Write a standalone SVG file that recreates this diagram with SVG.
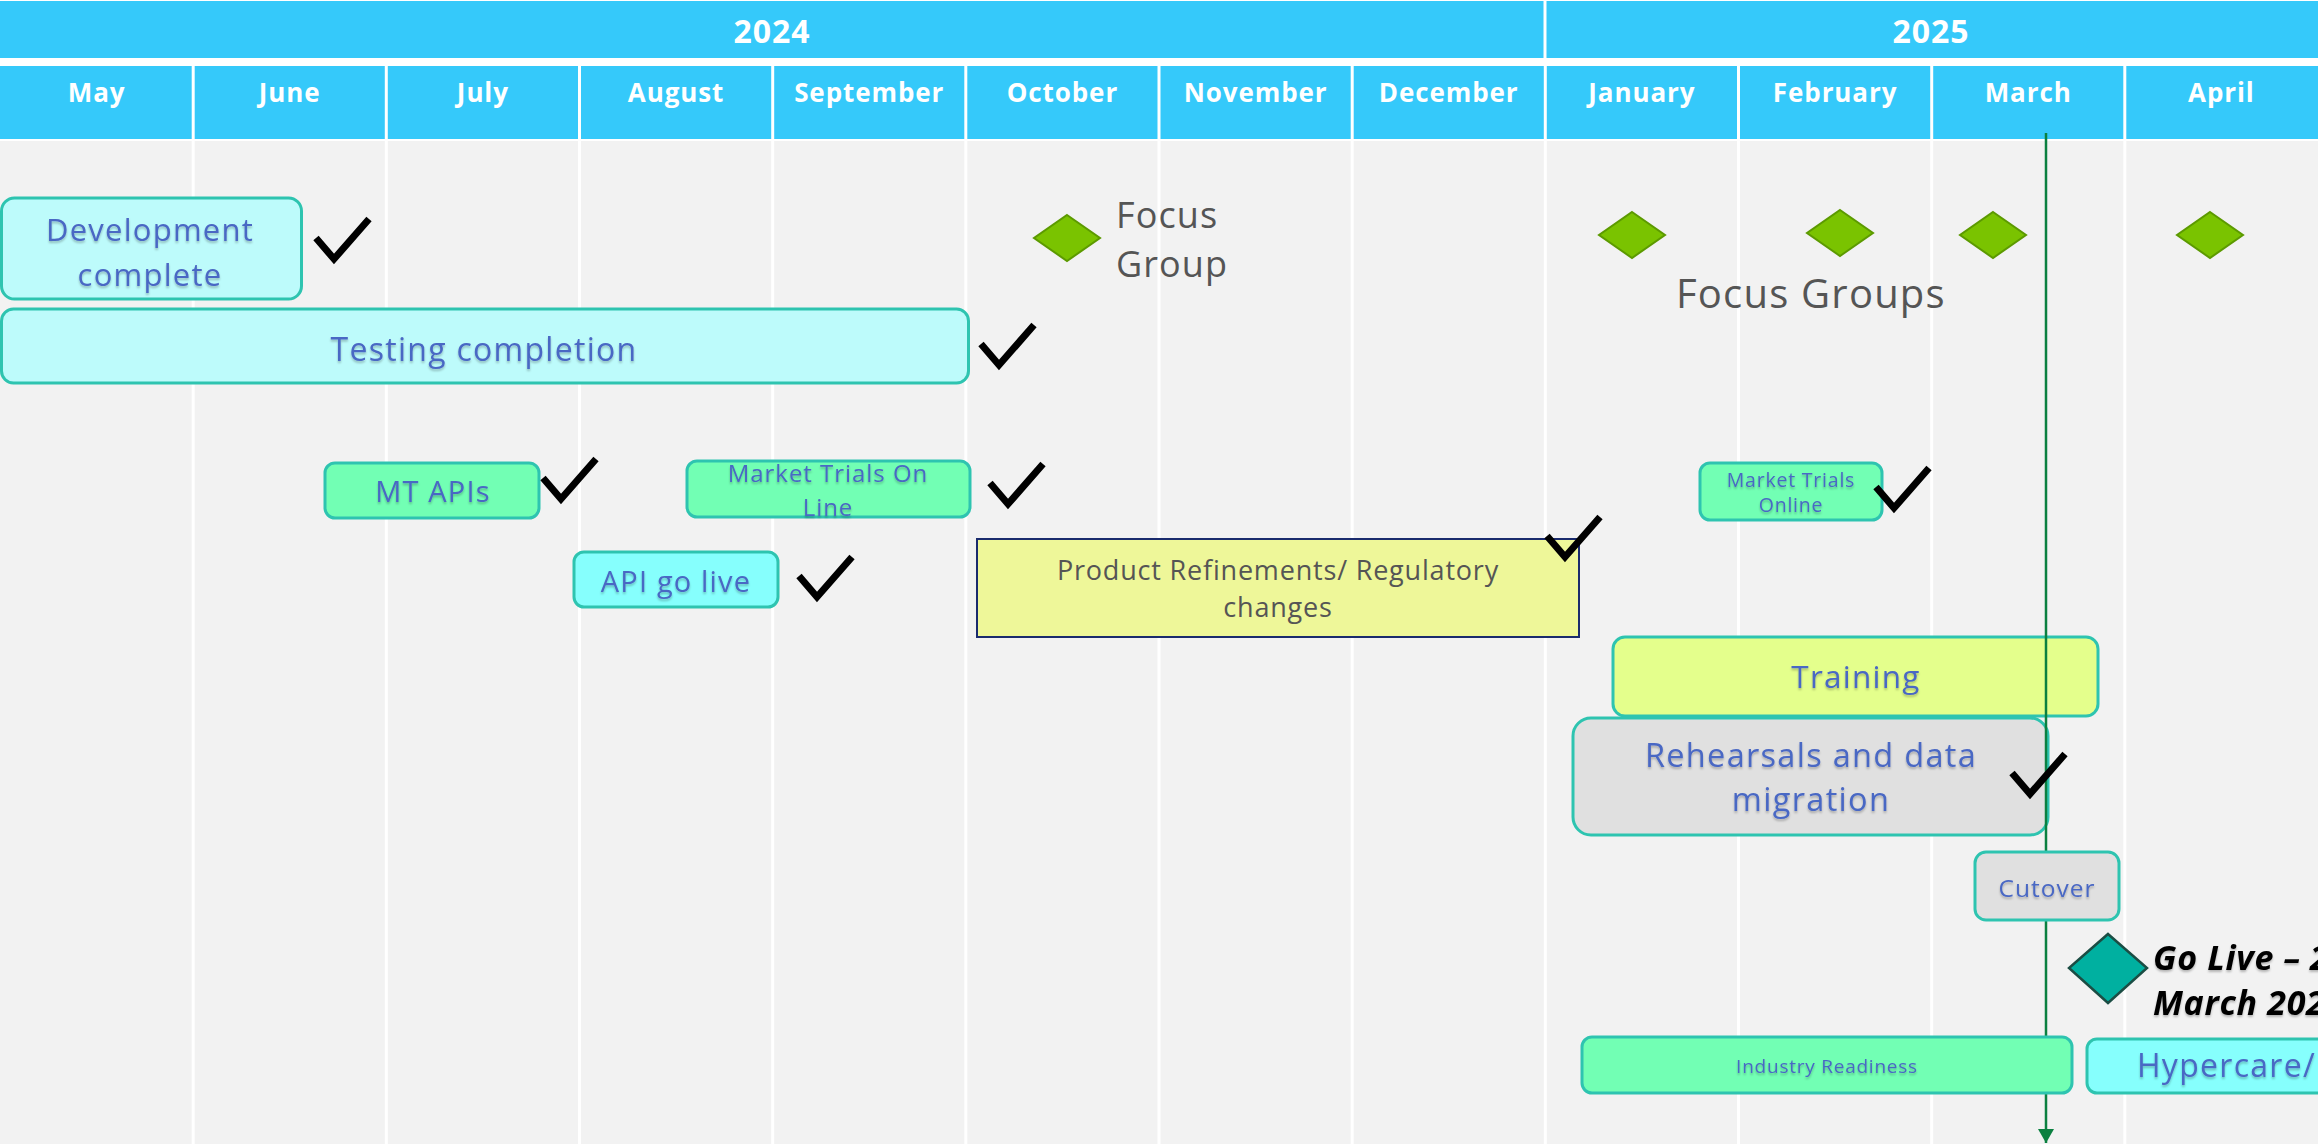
<svg xmlns="http://www.w3.org/2000/svg" width="2318" height="1144" viewBox="0 0 2318 1144">
<defs>
<style>
.hdr{fill:#35c9fa}
.yr{font-family:"Open Sans","Noto Sans",sans-serif;font-weight:700;font-size:32px;letter-spacing:0.03em;fill:#ffffff;text-anchor:middle}
.mo{font-family:"Open Sans","Noto Sans",sans-serif;font-weight:700;font-size:26px;letter-spacing:0.035em;fill:#ffffff;text-anchor:middle}
.sep{stroke:#ffffff;stroke-width:3}
.box{stroke:#2ec4b0;stroke-width:3}
.t{font-family:"Open Sans","Noto Sans",sans-serif;fill:#4a68c4;text-anchor:middle;letter-spacing:0.04em;filter:url(#ts)}
.ts{text-anchor:start}
.g{font-family:"Open Sans","Noto Sans",sans-serif;fill:#555555;letter-spacing:0.03em}
.fg{fill:#7ac300;stroke:#5c9a00;stroke-width:2}
.chk{fill:none;stroke:#000000;stroke-width:7;stroke-linejoin:miter;stroke-linecap:butt}
.gl{font-family:"Open Sans","Noto Sans",sans-serif;font-weight:700;font-style:italic;font-size:34px;letter-spacing:0.02em;fill:#000000;filter:url(#ts)}
</style>
<filter id="ts" x="-10%" y="-30%" width="120%" height="160%">
<feDropShadow dx="0" dy="2" stdDeviation="1.2" flood-color="#000000" flood-opacity="0.25"/>
</filter>
<symbol id="chk" viewBox="0 0 60 50" width="60" height="50" overflow="visible">
<polyline class="chk" points="3,21 21,42 56,2"/>
</symbol>
<marker id="arr" markerWidth="14" markerHeight="16" refX="14" refY="8" orient="auto" markerUnits="userSpaceOnUse" viewBox="0 0 14 16">
<path d="M0,0 L14,8 L0,16 Z" fill="#0b8040"/>
</marker>
</defs>

<g id="background">
<rect x="0" y="0" width="2318" height="1144" fill="#ffffff"/>
<rect class="hdr" x="0" y="1" width="2318" height="57"/>
<rect class="hdr" x="0" y="66" width="2318" height="73"/>
<rect x="0" y="141" width="2318" height="1003" fill="#f2f2f2"/>
<line class="sep" x1="1545" y1="0" x2="1545" y2="58"/>
<line class="sep" x1="193.2" y1="66" x2="193.2" y2="1144"/>
<line class="sep" x1="386.3" y1="66" x2="386.3" y2="1144"/>
<line class="sep" x1="579.5" y1="66" x2="579.5" y2="1144"/>
<line class="sep" x1="772.7" y1="66" x2="772.7" y2="1144"/>
<line class="sep" x1="965.8" y1="66" x2="965.8" y2="1144"/>
<line class="sep" x1="1159" y1="66" x2="1159" y2="1144"/>
<line class="sep" x1="1352.2" y1="66" x2="1352.2" y2="1144"/>
<line class="sep" x1="1545.3" y1="66" x2="1545.3" y2="1144"/>
<line class="sep" x1="1738.5" y1="66" x2="1738.5" y2="1144"/>
<line class="sep" x1="1931.7" y1="66" x2="1931.7" y2="1144"/>
<line class="sep" x1="2124.8" y1="66" x2="2124.8" y2="1144"/>
<text class="yr" x="772" y="43">2024</text>
<text class="yr" x="1931" y="43">2025</text>
<text class="mo" x="96.6" y="102">May</text>
<text class="mo" x="289.7" y="102">June</text>
<text class="mo" x="482.9" y="102">July</text>
<text class="mo" x="676.1" y="102">August</text>
<text class="mo" x="869.2" y="102">September</text>
<text class="mo" x="1062.4" y="102">October</text>
<text class="mo" x="1255.6" y="102">November</text>
<text class="mo" x="1448.7" y="102">December</text>
<text class="mo" x="1641.9" y="102">January</text>
<text class="mo" x="1835.1" y="102">February</text>
<text class="mo" x="2028.2" y="102">March</text>
<text class="mo" x="2221.4" y="102">April</text>
</g>

<g id="dev-complete">
<rect class="box" x="1.5" y="198" width="300" height="101" rx="13" fill="#bdfbfb"/>
<text class="t" x="150" y="241" font-size="31">Development</text>
<text class="t" x="150" y="286" font-size="31">complete</text>
<use href="#chk" x="313" y="217"/>
</g>

<g id="testing-completion">
<rect class="box" x="1.5" y="309" width="967" height="74" rx="12" fill="#bdfbfb"/>
<text class="t" x="484" y="361" font-size="32">Testing completion</text>
<use href="#chk" x="978" y="323"/>
</g>

<g id="focus-group">
<polygon class="fg" points="1067,215 1100,238 1067,261 1034,238"/>
<text class="g" x="1116" y="228" font-size="36">Focus</text>
<text class="g" x="1116" y="277" font-size="36">Group</text>
</g>

<g id="focus-groups">
<polygon class="fg" points="1632,212 1665,235 1632,258 1599,235"/>
<polygon class="fg" points="1840,210 1873,233 1840,256 1807,233"/>
<polygon class="fg" points="1993,212 2026,235 1993,258 1960,235"/>
<polygon class="fg" points="2210,212 2243,235 2210,258 2177,235"/>
<text class="g" x="1676" y="308" font-size="40">Focus Groups</text>
</g>

<g id="mt-apis">
<rect class="box" x="325" y="463" width="214" height="55" rx="10" fill="#72ffb4"/>
<text class="t" x="433" y="502" font-size="29">MT APIs</text>
<use href="#chk" x="540" y="457"/>
</g>

<g id="market-trials-on-line">
<rect class="box" x="687" y="461" width="283" height="56" rx="10" fill="#72ffb4"/>
<text class="t" x="828" y="482" font-size="24">Market Trials On</text>
<text class="t" x="828" y="516" font-size="24">Line</text>
<use href="#chk" x="987" y="462"/>
</g>

<g id="api-go-live">
<rect class="box" x="574" y="552" width="204" height="55" rx="10" fill="#86fffd"/>
<text class="t" x="676" y="592" font-size="29">API go live</text>
<use href="#chk" x="796" y="555"/>
</g>

<g id="product-refinements">
<rect x="977" y="539" width="602" height="98" fill="#eef799" stroke="#1a2b6d" stroke-width="2"/>
<text class="g" x="1278" y="580" font-size="27" text-anchor="middle">Product Refinements/ Regulatory</text>
<text class="g" x="1278" y="617" font-size="27" text-anchor="middle">changes</text>
<use href="#chk" x="1544" y="515"/>
</g>

<g id="market-trials-online">
<rect class="box" x="1700" y="463" width="182" height="57" rx="10" fill="#72ffb4"/>
<text class="t" x="1791" y="487" font-size="19.5">Market Trials</text>
<text class="t" x="1791" y="512" font-size="19.5">Online</text>
<use href="#chk" x="1873" y="466"/>
</g>

<g id="training">
<rect class="box" x="1613" y="637" width="485" height="79" rx="12" fill="#e4ff8c"/>
<text class="t" x="1856" y="688" font-size="31.5">Training</text>
</g>

<g id="rehearsals">
<rect class="box" x="1573" y="718" width="475" height="117" rx="18" fill="#e0e0e0"/>
<text class="t" x="1811" y="767" font-size="32.5">Rehearsals and data</text>
<text class="t" x="1811" y="811" font-size="32.5">migration</text>
</g>

<g id="connectors">
<line x1="2046" y1="133" x2="2046" y2="1143" stroke="#0b8040" stroke-width="2.5" marker-end="url(#arr)"/>
</g>

<g id="rehearsals-check">
<use href="#chk" x="2009" y="752"/>
</g>

<g id="cutover">
<rect class="box" x="1975" y="852" width="144" height="68" rx="11" fill="#e0e0e0"/>
<text class="t" x="2047" y="897" font-size="24.5">Cutover</text>
</g>

<g id="go-live">
<polygon points="2108,934 2147,968 2108,1003 2069,968" fill="#00b0a0" stroke="#1b4d44" stroke-width="2.5"/>
<text class="gl" x="2153" y="970">Go Live – 2</text>
<text class="gl" x="2153" y="1015">March 202</text>
</g>

<g id="industry-readiness">
<rect class="box" x="1582" y="1037" width="490" height="56" rx="10" fill="#72ffb4"/>
<text class="t" x="1827" y="1073" font-size="19">Industry Readiness</text>
</g>

<g id="hypercare">
<rect class="box" x="2087" y="1039" width="260" height="54" rx="10" fill="#86fffd"/>
<text class="t ts" x="2137" y="1077" font-size="32">Hypercare/</text>
</g>
</svg>
